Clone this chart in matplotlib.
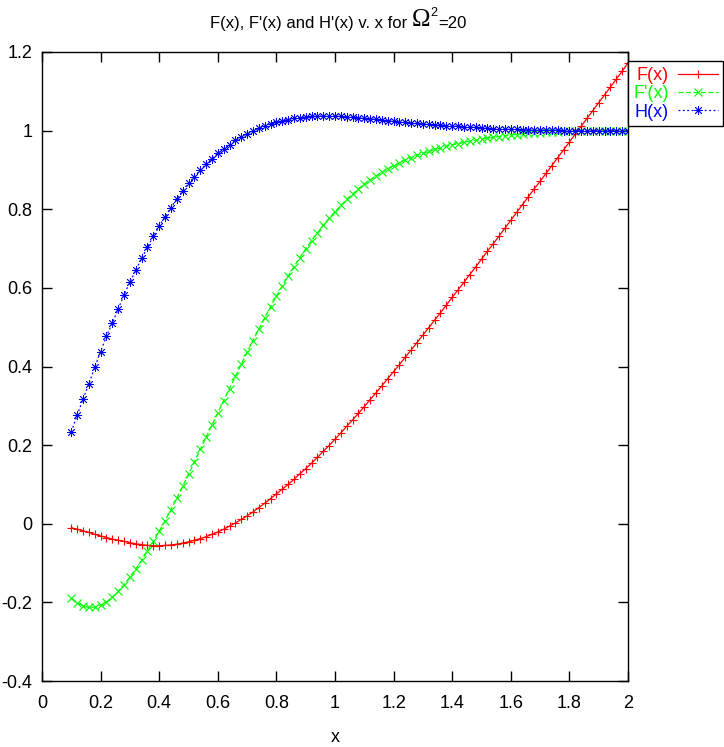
import matplotlib
matplotlib.use('Agg')
import matplotlib.pyplot as plt
from matplotlib.ticker import FuncFormatter

# valores (passo de 0.02 em x)
xs = [0.10, 0.12, 0.14, 0.16, 0.18, 0.20, 0.22, 0.24, 0.26, 0.28,
      0.30, 0.32, 0.34, 0.36, 0.38, 0.40, 0.42, 0.44, 0.46, 0.48,
      0.50, 0.52, 0.54, 0.56, 0.58, 0.60, 0.62, 0.64, 0.66, 0.68,
      0.70, 0.72, 0.74, 0.76, 0.78, 0.80, 0.82, 0.84, 0.86, 0.88,
      0.90, 0.92, 0.94, 0.96, 0.98, 1.00, 1.02, 1.04, 1.06, 1.08,
      1.10, 1.12, 1.14, 1.16, 1.18, 1.20, 1.22, 1.24, 1.26, 1.28,
      1.30, 1.32, 1.34, 1.36, 1.38, 1.40, 1.42, 1.44, 1.46, 1.48,
      1.50, 1.52, 1.54, 1.56, 1.58, 1.60, 1.62, 1.64, 1.66, 1.68,
      1.70, 1.72, 1.74, 1.76, 1.78, 1.80, 1.82, 1.84, 1.86, 1.88,
      1.90, 1.92, 1.94, 1.96, 1.98, 2.00]

F = [-0.010, -0.014, -0.018, -0.022, -0.027, -0.031, -0.035, -0.039, -0.042, -0.045,
     -0.048, -0.051, -0.053, -0.055, -0.056, -0.056, -0.055, -0.054, -0.052, -0.049,
     -0.046, -0.042, -0.038, -0.033, -0.027, -0.021, -0.014, -0.006, 0.002, 0.011,
     0.020, 0.030, 0.041, 0.052, 0.064, 0.076, 0.088, 0.100, 0.113, 0.127,
     0.140, 0.154, 0.169, 0.184, 0.199, 0.215, 0.231, 0.248, 0.264, 0.281,
     0.298, 0.316, 0.333, 0.351, 0.369, 0.387, 0.405, 0.424, 0.442, 0.461,
     0.480, 0.499, 0.518, 0.537, 0.556, 0.576, 0.595, 0.614, 0.634, 0.653,
     0.673, 0.693, 0.712, 0.732, 0.752, 0.772, 0.792, 0.812, 0.832, 0.852,
     0.871, 0.891, 0.911, 0.931, 0.951, 0.971, 0.991, 1.011, 1.031, 1.051,
     1.071, 1.091, 1.111, 1.131, 1.151, 1.172]

Fp = [-0.190, -0.201, -0.209, -0.213, -0.212, -0.207, -0.199, -0.187, -0.172, -0.155,
      -0.136, -0.115, -0.093, -0.070, -0.045, -0.019, 0.008, 0.036, 0.065, 0.095,
      0.126, 0.157, 0.189, 0.220, 0.251, 0.282, 0.313, 0.344, 0.375, 0.406,
      0.436, 0.466, 0.495, 0.524, 0.552, 0.579, 0.605, 0.630, 0.654, 0.677,
      0.699, 0.720, 0.740, 0.759, 0.777, 0.794, 0.810, 0.825, 0.839, 0.852,
      0.864, 0.875, 0.885, 0.894, 0.903, 0.911, 0.918, 0.925, 0.931, 0.937,
      0.942, 0.947, 0.952, 0.956, 0.960, 0.964, 0.967, 0.970, 0.973, 0.976,
      0.978, 0.981, 0.983, 0.985, 0.987, 0.989, 0.990, 0.992, 0.993, 0.994,
      0.995, 0.996, 0.997, 0.997, 0.998, 0.998, 0.999, 0.999, 0.999, 0.999,
      1.000, 1.000, 1.000, 1.000, 1.000, 1.000]

H = [0.234, 0.276, 0.317, 0.356, 0.398, 0.438, 0.477, 0.511, 0.546, 0.583,
     0.614, 0.645, 0.675, 0.704, 0.731, 0.757, 0.781, 0.804, 0.826, 0.847,
     0.866, 0.883, 0.899, 0.915, 0.929, 0.942, 0.953, 0.964, 0.975, 0.984,
     0.992, 0.999, 1.006, 1.012, 1.017, 1.021, 1.025, 1.028, 1.031, 1.033,
     1.035, 1.036, 1.037, 1.037, 1.037, 1.037, 1.036, 1.035, 1.034, 1.033,
     1.032, 1.030, 1.029, 1.027, 1.025, 1.024, 1.022, 1.021, 1.020, 1.019,
     1.017, 1.016, 1.015, 1.014, 1.013, 1.012, 1.011, 1.010, 1.009, 1.008,
     1.007, 1.006, 1.005, 1.004, 1.004, 1.003, 1.003, 1.002, 1.002, 1.002,
     1.001, 1.001, 1.001, 1.001, 1.000, 1.000, 1.000, 1.000, 1.000, 1.000,
     1.000, 1.000, 1.000, 1.000, 1.000, 1.000]

xticks = [0, 0.2, 0.4, 0.6, 0.8, 1.0, 1.2, 1.4, 1.6, 1.8, 2.0]
yticks = [-0.4, -0.2, 0, 0.2, 0.4, 0.6, 0.8, 1.0, 1.2]

plt.rcParams['font.family'] = ['Liberation Sans', 'DejaVu Sans']

fig = plt.figure(figsize=(7.24, 7.47), dpi=100)
ax = fig.add_axes([42/724, 66/747, 586/724, 629/747])

ax.plot(xs, F, color='#ff0000', lw=0.9, ls='-', marker='+', ms=6, mew=0.8, label='F(x)')
ax.plot(xs, Fp, color='#00ff00', lw=0.9, ls=(0, (4, 2)), marker='x', ms=5.5, mew=0.8, label="F'(x)")
ax.plot(xs, H, color='#0000ff', lw=0.9, ls=(0, (1.5, 2)), marker=(8, 2, 0), ms=6.5, mew=0.6, label='H(x)')

ax.set_xlim(0, 2)
ax.set_ylim(-0.4, 1.2)
ax.set_xticks(xticks)
ax.set_yticks(yticks)
fmt = FuncFormatter(lambda v, p: '%g' % round(v, 2))
ax.xaxis.set_major_formatter(fmt)
ax.yaxis.set_major_formatter(fmt)
ax.tick_params(direction='in', length=7, width=1, top=True, right=True, labelsize=13)
ax.tick_params(axis='x', pad=10)
ax.tick_params(axis='y', pad=7)
for s in ax.spines.values():
    s.set_linewidth(1)
ax.set_xlabel('x', fontsize=13, labelpad=12)

# titulo com Omega maior
t1 = fig.text(0.29, 0.963, "F(x), F'(x) and H'(x) v. x for ", fontsize=12, ha='left', va='baseline')
t2 = ax.annotate('\u03a9', xy=(1, 0), xycoords=t1, fontsize=18, family='Liberation Serif',
                 ha='left', va='bottom')
t3 = ax.annotate('2', xy=(1, 0.55), xycoords=t2, fontsize=9, ha='left', va='bottom')
ax.annotate('=20', xy=(1, 0), xycoords=t2, fontsize=12, ha='left', va='bottom',
            xytext=(6, 0), textcoords='offset points')

leg = ax.legend(loc='upper left', bbox_to_anchor=(1.0, 0.985), borderaxespad=0,
                markerfirst=False, numpoints=1, handlelength=2.2, handletextpad=0.5,
                labelspacing=0.08, borderpad=0.3, fontsize=13, fancybox=False,
                framealpha=1, edgecolor='black')
leg.get_frame().set_linewidth(1)
for txt, cor in zip(leg.get_texts(), ['#ff0000', '#00ff00', '#0000ff']):
    txt.set_color(cor)

fig.savefig('out.png', dpi=100)
